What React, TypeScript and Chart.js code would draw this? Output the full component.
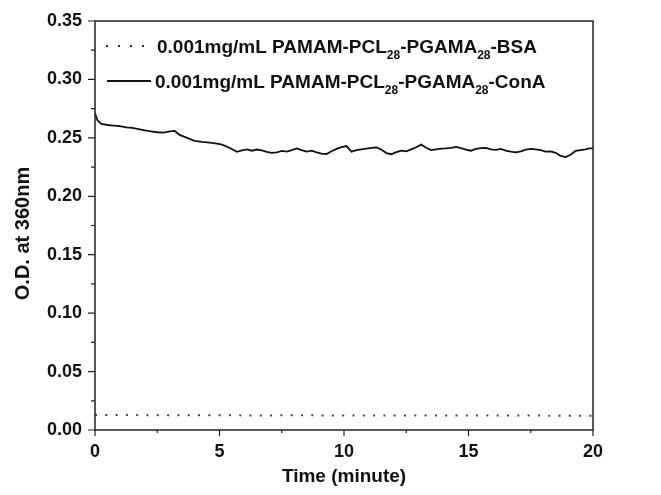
import React, { useEffect, useRef } from 'react';
import { Chart, registerables } from 'chart.js';
Chart.register(...registerables);

// ---- Data ----
const timeConA = [
  0.0, 0.1, 0.25, 0.5, 0.75, 1.0, 1.25, 1.5, 1.75, 2.0, 2.25, 2.5, 2.75, 3.0, 3.2, 3.4, 3.7, 4.0, 4.3, 4.6,
  4.9, 5.1, 5.4, 5.7, 5.9, 6.1, 6.3, 6.5, 6.7, 6.9, 7.1, 7.3, 7.5, 7.7, 7.9, 8.1, 8.3, 8.5, 8.7, 8.9,
  9.1, 9.3, 9.5, 9.7, 9.9, 10.1, 10.3, 10.5, 10.7, 10.9, 11.1, 11.3, 11.5, 11.7, 11.9, 12.1, 12.3, 12.5, 12.7, 12.9,
  13.1, 13.3, 13.5, 13.7, 13.9, 14.1, 14.3, 14.5, 14.7, 14.9, 15.1, 15.3, 15.5, 15.7, 15.9, 16.1, 16.3, 16.5, 16.7, 16.9,
  17.1, 17.3, 17.5, 17.7, 17.9, 18.1, 18.3, 18.5, 18.7, 18.9, 19.1, 19.3, 19.5, 19.7, 19.85, 20.0,
];
const odConA = [
  0.271, 0.265, 0.262, 0.261, 0.2605, 0.26, 0.259, 0.2585, 0.2575, 0.2565, 0.2555, 0.2548, 0.2545, 0.2555, 0.256, 0.2525, 0.25, 0.2475, 0.2465, 0.246,
  0.245, 0.2442, 0.2415, 0.238, 0.2392, 0.2402, 0.239, 0.24, 0.2392, 0.238, 0.2372, 0.2375, 0.2388, 0.2382, 0.2395, 0.241, 0.2395, 0.2382, 0.239, 0.2375,
  0.2365, 0.2362, 0.2385, 0.2405, 0.242, 0.243, 0.2382, 0.2395, 0.2402, 0.2408, 0.2415, 0.2418, 0.24, 0.237, 0.236, 0.2378, 0.239, 0.2385, 0.2402, 0.242,
  0.2442, 0.2415, 0.2395, 0.2402, 0.2408, 0.241, 0.2415, 0.2422, 0.2412, 0.24, 0.239, 0.2405, 0.2412, 0.2415, 0.2402, 0.2398, 0.2405, 0.239, 0.2382, 0.2376,
  0.2385, 0.24, 0.2405, 0.2402, 0.2395, 0.2382, 0.2385, 0.2372, 0.2345, 0.2335, 0.2355, 0.2388, 0.2395, 0.2402, 0.241, 0.241,
];
const timeBSA = [0, 1, 2, 3, 4, 5, 6, 7, 8, 9, 10, 11, 12, 13, 14, 15, 16, 17, 18, 19, 20];
const odBSA = [0.0128, 0.0128, 0.0127, 0.0127, 0.0127, 0.0126, 0.0125, 0.0125, 0.0126, 0.0125, 0.0125, 0.0125, 0.0125, 0.0124, 0.0124, 0.0124, 0.0124, 0.0124, 0.0123, 0.0123, 0.0123];

const xMajorTicks = [0, 5, 10, 15, 20];
const yMajorTicks = [0, 0.05, 0.1, 0.15, 0.2, 0.25, 0.3, 0.35];
const xTitle = 'Time (minute)';
const yTitle = 'O.D. at 360nm';
const legendBSA = [
  { t: '0.001mg/mL PAMAM-PCL', sub: false },
  { t: '28', sub: true },
  { t: '-PGAMA', sub: false },
  { t: '28', sub: true },
  { t: '-BSA', sub: false },
];
const legendConA = [
  { t: '0.001mg/mL PAMAM-PCL', sub: false },
  { t: '28', sub: true },
  { t: '-PGAMA', sub: false },
  { t: '28', sub: true },
  { t: '-ConA', sub: false },
];

const FONT = '"Liberation Sans", Arial, Helvetica, sans-serif';

const decorPlugin = {
  id: 'decor',
  afterDraw(chart: any) {
    const ctx = chart.ctx as CanvasRenderingContext2D;
    const a = chart.chartArea;
    const xs = chart.scales.x;
    const ys = chart.scales.y;
    ctx.save();
    ctx.strokeStyle = '#222';
    ctx.lineWidth = 1.5;
    ctx.strokeRect(a.left, a.top, a.right - a.left, a.bottom - a.top);
    // ticks
    ctx.lineWidth = 1.2;
    ctx.beginPath();
    for (let i = 0; i < xMajorTicks.length; i++) {
      const px = xs.getPixelForValue(xMajorTicks[i]);
      ctx.moveTo(px, a.bottom);
      ctx.lineTo(px, a.bottom + 6);
      if (i < xMajorTicks.length - 1) {
        const mx = xs.getPixelForValue((xMajorTicks[i] + xMajorTicks[i + 1]) / 2);
        ctx.moveTo(mx, a.bottom);
        ctx.lineTo(mx, a.bottom + 3);
      }
    }
    for (let i = 0; i < yMajorTicks.length; i++) {
      const py = ys.getPixelForValue(yMajorTicks[i]);
      ctx.moveTo(a.left, py);
      ctx.lineTo(a.left - 7, py);
      if (i < yMajorTicks.length - 1) {
        const my = ys.getPixelForValue((yMajorTicks[i] + yMajorTicks[i + 1]) / 2);
        ctx.moveTo(a.left, my);
        ctx.lineTo(a.left - 4, my);
      }
    }
    ctx.stroke();

    // axis titles
    ctx.fillStyle = '#111';
    ctx.font = `bold 19px ${FONT}`;
    ctx.textAlign = 'center';
    ctx.textBaseline = 'middle';
    ctx.fillText(xTitle, (a.left + a.right) / 2, 477);
    ctx.save();
    ctx.translate(23, (a.top + a.bottom) / 2 + 8);
    ctx.rotate(-Math.PI / 2);
    ctx.font = `bold 20px ${FONT}`;
    ctx.fillText(yTitle, 0, 0);
    ctx.restore();

    // legend
    const drawEntry = (parts: { t: string; sub: boolean }[], x: number, baseline: number) => {
      ctx.textAlign = 'left';
      ctx.textBaseline = 'alphabetic';
      let cx = x;
      for (const p of parts) {
        if (p.sub) {
          ctx.font = `bold 12px ${FONT}`;
          ctx.fillText(p.t, cx, baseline + 6);
        } else {
          ctx.font = `bold 19px ${FONT}`;
          ctx.fillText(p.t, cx, baseline);
        }
        cx += ctx.measureText(p.t).width;
      }
    };
    // sample BSA (dotted)
    ctx.strokeStyle = '#333';
    ctx.lineWidth = 2;
    ctx.setLineDash([2, 10]);
    ctx.beginPath();
    ctx.moveTo(106, 46);
    ctx.lineTo(150, 46);
    ctx.stroke();
    ctx.setLineDash([]);
    drawEntry(legendBSA, 157, 53);
    // sample ConA (solid)
    ctx.strokeStyle = '#111';
    ctx.lineWidth = 1.8;
    ctx.beginPath();
    ctx.moveTo(107, 81);
    ctx.lineTo(151, 81);
    ctx.stroke();
    drawEntry(legendConA, 155, 88);
    ctx.restore();
  },
};

export default function App() {
  const ref = useRef<HTMLCanvasElement | null>(null);
  useEffect(() => {
    if (!ref.current) return;
    const chart = new Chart(ref.current, {
      type: 'line',
      data: {
        datasets: [
          {
            label: 'BSA',
            data: timeBSA.map((t, i) => ({ x: t, y: odBSA[i] })),
            borderColor: '#444',
            borderWidth: 2,
            borderDash: [2, 8.3],
            pointRadius: 0,
            tension: 0,
            fill: false,
          },
          {
            label: 'ConA',
            data: timeConA.map((t, i) => ({ x: t, y: odConA[i] })),
            borderColor: '#111',
            borderWidth: 1.8,
            pointRadius: 0,
            tension: 0,
            fill: false,
          },
        ],
      },
      options: {
        responsive: false,
        animation: false,
        layout: { padding: { top: 21, right: 68, left: 0, bottom: 0 } },
        plugins: { legend: { display: false }, tooltip: { enabled: false } },
        scales: {
          x: {
            type: 'linear',
            min: 0,
            max: 20,
            afterBuildTicks: (s: any) => { s.ticks = xMajorTicks.map((v) => ({ value: v })); },
            afterFit: (s: any) => { s.height = 65; },
            grid: { display: false },
            border: { display: false },
            ticks: { color: '#111', font: { family: FONT, size: 18, weight: 'bold' }, padding: 3, maxRotation: 0 },
          },
          y: {
            type: 'linear',
            min: 0,
            max: 0.35,
            afterBuildTicks: (s: any) => { s.ticks = yMajorTicks.map((v) => ({ value: v })); },
            afterFit: (s: any) => { s.width = 95; },
            grid: { display: false },
            border: { display: false },
            ticks: {
              color: '#111',
              font: { family: FONT, size: 18, weight: 'bold' },
              padding: 5,
              callback: (v: any) => Number(v).toFixed(2),
            },
          },
        },
      },
      plugins: [decorPlugin],
    } as any);
    return () => chart.destroy();
  }, []);
  return (
    <div style={{ position: 'fixed', left: 0, top: 0, width: 661, height: 495, background: '#fff' }}>
      <canvas ref={ref} width={661} height={495} style={{ width: 661, height: 495, display: 'block' }} />
    </div>
  );
}
